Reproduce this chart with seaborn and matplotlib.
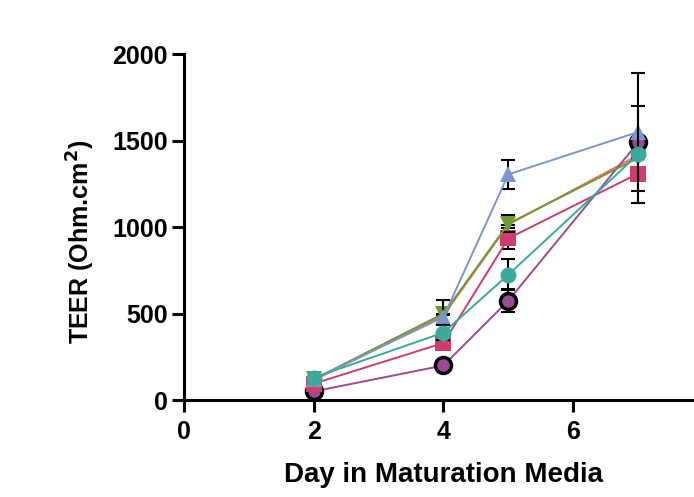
import pandas as pd
import seaborn as sns
import matplotlib.pyplot as plt

# TEER over days in maturation media
days = [2, 4, 5, 7]
coral = [115, 490, 1015, 1415]
purple = [50, 200, 575, 1490]
pink = [95, 330, 935, 1310]
green = [120, 500, 1020, 1400]
blue = [120, 480, 1305, 1550]
teal = [130, 390, 725, 1420]

coral_err = [0, 0, 0, 0]
purple_err = [0, 0, 65, 25]
pink_err = [0, 0, 60, 20]
green_err = [0, 0, 50, 0]
blue_err = [0, 100, 85, 340]
teal_err = [0, 45, 90, 280]

series = [
    ("coral", coral, coral_err, "#F26B5B", None, None),
    ("purple", purple, purple_err, "#9C4A96", "o", "black"),
    ("pink", pink, pink_err, "#D03C6C", "s", None),
    ("green", green, green_err, "#6D9C35", "v", None),
    ("blue", blue, blue_err, "#7B96CB", "^", None),
    ("teal", teal, teal_err, "#3BAA9A", "o", None),
]

sns.set_theme(style="ticks")
plt.rcParams['font.family'] = ['Liberation Sans', 'DejaVu Sans']
plt.rcParams['font.weight'] = 'bold'
plt.rcParams['text.color'] = 'black'
plt.rcParams['axes.labelcolor'] = 'black'

fig = plt.figure(figsize=(6.94, 4.97), dpi=100)
ax = fig.add_axes([0.265, 0.195, 0.748, 0.696])

for i, (name, vals, err, col, mk, edge) in enumerate(series):
    df = pd.DataFrame({"day": days, "teer": vals})
    ax.errorbar(days, vals, yerr=err, fmt="none", ecolor="black",
                elinewidth=1.5, capsize=5, capthick=1.5, zorder=2 + i * 2)
    sns.lineplot(data=df, x="day", y="teer", color=col, linewidth=1.4,
                 marker=mk, markersize=11 if mk != "o" else 11.5,
                 markeredgecolor=edge if edge else col,
                 markeredgewidth=2.5 if edge else 0,
                 ax=ax, zorder=3 + i * 2, legend=False)

ax.set_xlim(0, 8)
ax.set_ylim(0, 2000)
ax.set_xticks([0, 2, 4, 6])
ax.set_yticks([0, 500, 1000, 1500, 2000])
ax.set_xlabel("Day in Maturation Media", fontsize=20, fontweight="bold", color="black")
ax.set_ylabel("TEER (Ohm.cm$^\\mathbf{2}$)", fontsize=18, fontweight="bold", color="black")
ax.xaxis.set_label_coords(0.5, -0.18)
ax.yaxis.set_label_coords(-0.168, 0.457)
ax.tick_params(axis="both", labelsize=18, width=2.2, length=8.5, direction="out", colors="black")
ax.tick_params(axis="x", pad=6)
ax.tick_params(axis="y", pad=3)
for lab in ax.get_xticklabels() + ax.get_yticklabels():
    lab.set_fontweight("bold")
sns.despine(ax=ax)
for s in ["left", "bottom"]:
    ax.spines[s].set_linewidth(2.2)
    ax.spines[s].set_color("black")

plt.savefig("out.png", dpi=100)
